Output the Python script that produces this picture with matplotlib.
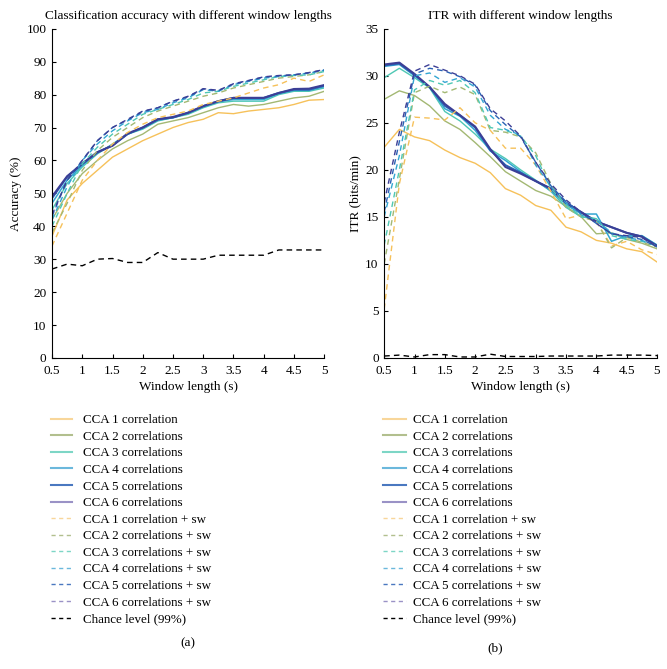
import numpy as np
import matplotlib.pyplot as plt

plt.rcParams['font.family'] = ['Liberation Serif', 'DejaVu Serif']

win = [0.5, 0.75, 1.0, 1.25, 1.5, 1.75, 2.0, 2.25, 2.5, 2.75, 3.0, 3.25, 3.5, 3.75, 4.0, 4.25, 4.5, 4.75, 5.0]

labels = ['CCA 1 correlation', 'CCA 2 correlations', 'CCA 3 correlations',
          'CCA 4 correlations', 'CCA 5 correlations', 'CCA 6 correlations']
colors = ['#f6c15a', '#a3b873', '#4fc8b4', '#33a6d2', '#2a62b4', '#3c3f96']
legend_colors = ['#f8d69a', '#b2bf8e', '#7dd6c6', '#6bb8dc', '#4a78c0', '#9a92c6']

# accuracy (%)
acc = [
    [37, 48, 53, 57, 61, 63.5, 66, 68, 70, 71.5, 72.5, 74.5, 74.2, 75, 75.5, 76, 77, 78.3, 78.5],
    [42, 50, 56, 60, 63.5, 66, 68, 71, 72, 73, 74.5, 76, 77, 76.5, 77, 78, 79, 79.5, 81],
    [45, 53, 58, 62, 65, 68, 69.5, 72, 73, 74, 76, 77.5, 78, 78, 78, 80, 81, 81, 82],
    [47, 54, 58.5, 62.2, 64.8, 68, 69.8, 72.2, 73, 74.3, 76.3, 77.8, 78.5, 78.5, 78.5, 80.3, 81.3, 81.3, 82.4],
    [48.5, 55, 59, 62.5, 64.5, 68, 70, 72.5, 73, 74.5, 76.5, 78, 79, 79, 79, 80.5, 81.5, 81.5, 82.7],
    [49, 55.2, 59, 62.5, 64.5, 68.2, 70, 72.5, 73.2, 74.5, 76.5, 78, 79, 79, 79, 80.5, 81.7, 81.8, 82.9],
]
acc_sw = [
    [34, 44, 54, 60, 65, 68.5, 71, 73, 74, 75, 77, 78, 79, 80.5, 82, 83, 85, 84, 86],
    [38, 47, 57, 63, 67, 70, 73, 75, 76.5, 78, 79.5, 80.5, 82, 83, 84, 85, 85.5, 86, 87],
    [40, 50, 59, 64, 68, 71, 74, 75.5, 77, 78.5, 80.5, 81, 82.5, 83.5, 84.5, 85.5, 85.8, 86, 87],
    [42, 52, 60, 65, 69, 72, 74.5, 75.5, 77.5, 79, 81.5, 81, 83, 84, 85, 85.5, 86, 86.5, 87.4],
    [43, 54, 60, 66, 70, 72.3, 74.8, 76, 78, 79.3, 81.7, 81.2, 83.2, 84.2, 85.3, 85.7, 86, 86.6, 87.5],
    [43.5, 54, 60, 66, 70, 72.5, 75, 76, 78, 79.5, 81.8, 81.3, 83.3, 84.3, 85.4, 85.8, 86, 86.7, 87.6],
]
acc_chance = [27, 28.5, 28, 30, 30.2, 29, 29, 32, 30, 30, 30, 31.2, 31.2, 31.2, 31.2, 32.8, 32.8, 32.8, 32.8]

# ITR (bits/min)
itr = [
    [22.4, 24.3, 23.5, 23.1, 22.1, 21.3, 20.7, 19.7, 18.0, 17.3, 16.2, 15.7, 13.9, 13.4, 12.5, 12.2, 11.6, 11.3, 10.2],
    [27.5, 28.4, 27.9, 26.8, 25.2, 24.3, 22.9, 21.4, 19.8, 18.8, 17.8, 17.2, 16.1, 15.0, 13.2, 13.3, 12.6, 12.2, 11.6],
    [29.8, 30.8, 29.8, 28.7, 26.2, 25.2, 23.8, 22.2, 21.2, 20.0, 18.9, 17.7, 16.0, 15.0, 14.8, 13.2, 12.8, 13.0, 12.0],
    [31.0, 31.2, 30.0, 28.8, 26.5, 25.7, 24.2, 22.0, 21.0, 19.8, 18.8, 17.8, 16.3, 15.3, 15.3, 12.4, 13.0, 13.0, 12.0],
    [31.1, 31.3, 30.1, 28.8, 26.8, 25.8, 24.5, 22.1, 20.5, 19.7, 18.8, 18.0, 16.5, 15.5, 14.5, 13.9, 13.3, 12.9, 11.9],
    [31.2, 31.4, 30.2, 28.8, 27.0, 25.8, 24.6, 22.2, 20.3, 19.6, 18.8, 18.0, 16.5, 15.5, 14.5, 13.9, 13.3, 12.9, 11.9],
]
itr_sw = [
    [5.2, 18.5, 25.6, 25.5, 25.3, 26.6, 25.0, 24.2, 22.3, 22.3, 20.5, 17.7, 14.8, 15.2, 14.5, 11.9, 12.4, 11.5, 11.0],
    [10.0, 19.0, 28.2, 28.9, 28.2, 28.8, 28.0, 24.2, 24.0, 23.5, 21.8, 18.5, 16.0, 15.0, 14.5, 11.7, 12.8, 12.3, 11.8],
    [12.0, 20.0, 28.5, 29.5, 29.0, 29.5, 28.2, 24.5, 24.2, 23.6, 21.5, 18.0, 16.3, 15.0, 14.8, 13.0, 12.6, 12.4, 11.9],
    [15.0, 21.5, 30.0, 30.3, 29.3, 29.8, 28.8, 25.8, 24.3, 23.7, 20.5, 18.2, 16.5, 15.2, 14.6, 13.3, 12.8, 12.5, 11.9],
    [15.5, 23.0, 30.2, 30.8, 30.5, 29.9, 29.0, 26.3, 24.8, 23.5, 20.8, 18.3, 16.6, 15.4, 14.3, 13.2, 12.9, 12.6, 11.8],
    [16.5, 24.0, 30.5, 31.2, 30.6, 30.0, 29.1, 26.5, 25.2, 23.6, 20.8, 18.5, 16.8, 15.5, 14.3, 13.2, 13.0, 12.8, 11.8],
]
itr_chance = [0.2, 0.3, 0.1, 0.35, 0.35, 0.1, 0.1, 0.4, 0.15, 0.15, 0.15, 0.2, 0.2, 0.2, 0.2, 0.3, 0.3, 0.3, 0.25]

widths = [1.0, 1.0, 1.0, 1.1, 1.4, 1.5]

fig = plt.figure(figsize=(6.67, 6.69), dpi=100)
ax1 = fig.add_axes([0.078, 0.465, 0.408, 0.492])
ax2 = fig.add_axes([0.576, 0.465, 0.409, 0.492])


def draw(ax, solid, dashed, chance):
    for i in range(6):
        ax.plot(win, solid[i], color=colors[i], lw=widths[i])
    for i in range(6):
        ax.plot(win, dashed[i], color=colors[i], lw=1.0, ls=(0, (4, 3)))
    ax.plot(win, chance, color='black', lw=1.0, ls=(0, (4, 3)))
    ax.spines['top'].set_visible(False)
    ax.spines['right'].set_visible(False)
    ax.tick_params(direction='in', labelsize=9.5, length=3)
    ax.tick_params(axis='x', pad=5)
    ax.tick_params(axis='y', pad=4)
    ax.set_xlim(0.5, 5)
    ax.set_xticks([0.5, 1, 1.5, 2, 2.5, 3, 3.5, 4, 4.5, 5])
    ax.set_xticklabels(['0.5', '1', '1.5', '2', '2.5', '3', '3.5', '4', '4.5', '5'])
    ax.set_xlabel('Window length (s)', fontsize=9.5, labelpad=3)


draw(ax1, acc, acc_sw, acc_chance)
ax1.set_ylim(0, 100)
ax1.set_yticks(range(0, 101, 10))
ax1.set_ylabel('Accuracy (%)', fontsize=9.5, labelpad=3)
ax1.set_title('Classification accuracy with different window lengths', fontsize=9.5, pad=7)

draw(ax2, itr, itr_sw, itr_chance)
ax2.set_ylim(0, 35)
ax2.set_yticks(range(0, 36, 5))
ax2.set_ylabel('ITR (bits/min)', fontsize=9.5, labelpad=3)
ax2.set_title('ITR with different window lengths', fontsize=9.5, pad=7)

# legends
handles = []
for i in range(6):
    handles.append(plt.Line2D([], [], color=legend_colors[i], lw=1.5))
for i in range(6):
    handles.append(plt.Line2D([], [], color=legend_colors[i], lw=1.0, ls=(0, (3, 2.5))))
handles.append(plt.Line2D([], [], color='black', lw=1.0, ls=(0, (3, 2.5))))
names = labels + [l + ' + sw' for l in labels] + ['Chance level (99%)']

for x0, h, pad in [(0.077, 1.6, 0.8), (0.574, 1.75, 0.55)]:
    fig.legend(handles, names, loc='upper left', bbox_to_anchor=(x0, 0.381), frameon=False,
               fontsize=9.4, handlelength=h, handletextpad=pad, labelspacing=0.34,
               borderaxespad=0, borderpad=0)

fig.text(0.282, 0.038, '(a)', ha='center', va='center', fontsize=9.5)
fig.text(0.742, 0.031, '(b)', ha='center', va='center', fontsize=9.5)

fig.savefig('out.png', dpi=100)
